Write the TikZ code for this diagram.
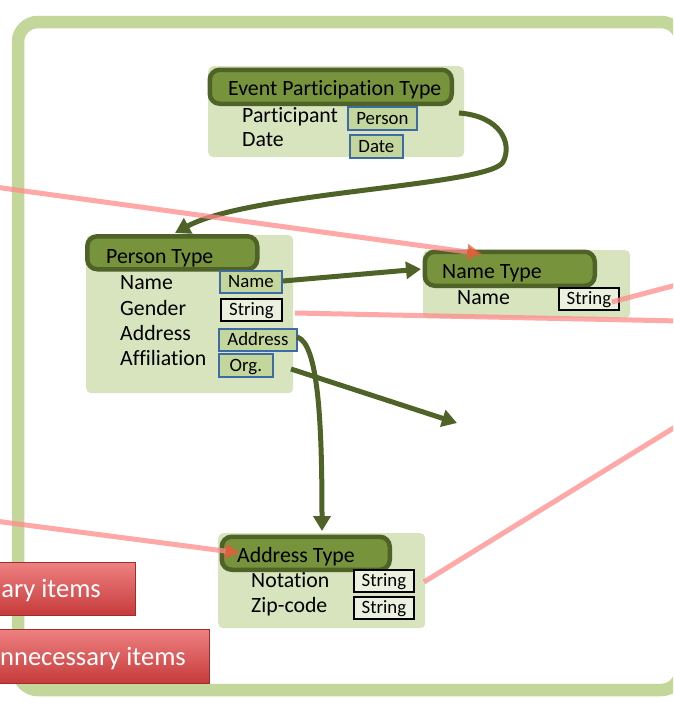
\documentclass[tikz,border=0pt]{standalone}
\usepackage{fontspec}
\setmainfont{Carlito}[Ligatures=NoCommon]
\usetikzlibrary{arrows.meta,calc}
\definecolor{frameg}{HTML}{C4D79B}
\definecolor{contg}{HTML}{D7E4BD}
\definecolor{headf}{HTML}{77933C}
\definecolor{headb}{HTML}{4F6228}
\definecolor{tboxf}{HTML}{C3D69B}
\definecolor{tboxb}{HTML}{3C6BA5}
\definecolor{sboxf}{HTML}{EBF1DE}
\definecolor{pinkl}{HTML}{FF8C8C}
\definecolor{pinkt}{HTML}{E0603C}
\definecolor{btntop}{HTML}{EE8080}
\definecolor{btnbot}{HTML}{C63A3A}
\definecolor{btnb}{HTML}{9C2E2E}
\begin{document}
\begin{tikzpicture}[x=1pt,y=-1pt,
  container/.style={fill=contg, rounded corners=5pt, inner sep=0pt, anchor=north west},
  header/.style={fill=headf, draw=headb, line width=4.5pt, rounded corners=10pt, inner sep=0pt, anchor=north west},
  htext/.style={font=\fontsize{21.8}{24}\selectfont, inner sep=0pt, anchor=base west},
  rowtext/.style={font=\fontsize{21.8}{24}\selectfont, inner sep=0pt, anchor=base west},
  tbox/.style={fill=tboxf, draw=tboxb, line width=1.8pt, inner sep=0pt, anchor=north west,
    font=\fontsize{18.8}{20}\selectfont, text height=16pt, text depth=4pt},
  sbox/.style={tbox, fill=sboxf, draw=black},
  gconn/.style={draw=headb, line width=5pt, -{Triangle[length=15pt,width=17pt]}},
  pconn/.style={draw=pinkl, line width=5pt, draw opacity=0.75},
  parrow/.style={pconn, -{Triangle[length=15pt,width=15pt,color=pinkt,fill=pinkt]}},
  button/.style={draw=btnb, line width=1.2pt, top color=btntop, bottom color=btnbot, inner sep=0pt, anchor=north west},
  btext/.style={font=\fontsize{26.5}{28}\selectfont, text=white, inner sep=0pt, anchor=base east}
]
\useasboundingbox (0,0) rectangle (673,707);
\clip (0,0) rectangle (673,707);
\fill[white] (0,0) rectangle (673,707);

% outer frame
\draw[frameg, line width=12.5pt, rounded corners=20pt] (18,22) rectangle (681,690);

% Event Participation Type
\node[container, minimum width=256pt, minimum height=91pt] (ept) at (208,66) {};
\node[header, minimum width=242pt, minimum height=34pt] (epth) at (207.5,67.5) {};
\node[htext] (eptt) at (228,95) {Event Participation Type};
\node[rowtext] (eptr1) at (242,122) {Participant};
\node[rowtext] (eptr2) at (242,146) {Date};
\node[tbox, minimum width=69pt, minimum height=23pt] (eptb1) at (347,106) {Person};
\node[tbox, minimum width=53pt, minimum height=23pt] (eptb2) at (349,134) {Date};

% Person Type
\node[container, minimum width=207pt, minimum height=158pt] (pt) at (86,235) {};
\node[header, minimum width=170pt, minimum height=33pt] (pth) at (85,234) {};
\node[htext] (ptt) at (106,263) {Person Type};
\node[rowtext] (ptr1) at (120,289) {Name};
\node[rowtext] (ptr2) at (120,315) {Gender};
\node[rowtext] (ptr3) at (120,340) {Address};
\node[rowtext] (ptr4) at (120,365) {Affiliation};
\node[tbox, minimum width=62pt, minimum height=22pt] (ptb1) at (219,270) {Name};
\node[sbox, minimum width=61pt, minimum height=22pt] (ptb2) at (220,298) {String};
\node[tbox, minimum width=78pt, minimum height=22pt] (ptb3) at (218,328) {Address};
\node[tbox, minimum width=54pt, minimum height=23pt] (ptb4) at (218,353) {Org.};

% Name Type
\node[container, minimum width=207pt, minimum height=68pt] (nt) at (423,250) {};
\node[header, minimum width=170pt, minimum height=34pt] (nth) at (422.5,249.5) {};
\node[htext] (ntt) at (442,278) {Name Type};
\node[rowtext] (ntr1) at (457,304) {Name};
\node[sbox, minimum width=60pt, minimum height=22pt] (ntb1) at (558,287) {String};

% Address Type
\node[container, minimum width=207pt, minimum height=95pt] (at) at (218,533) {};
\node[header, minimum width=168pt, minimum height=33pt] (ath) at (219.5,534.5) {};
\node[htext] (att) at (237,562) {Address Type};
\node[rowtext] (atr1) at (251,587) {Notation};
\node[rowtext] (atr2) at (251,612) {Zip-code};
\node[sbox, minimum width=60pt, minimum height=22pt] (atb1) at (353,569) {String};
\node[sbox, minimum width=60pt, minimum height=22pt] (atb2) at (353,596) {String};

% green connectors
\coordinate (c1s) at (459,113);
\coordinate (c1m) at (503,162);
\coordinate (c1e) at (175,233);
\draw[gconn] (c1s) .. controls (500,116) and (513,143) .. (c1m) .. controls (490,186) and (250,192) .. (c1e);
\coordinate (c2s) at (283,281);
\coordinate (c2e) at (421,269);
\draw[gconn] (c2s) -- (c2e);
\coordinate (c3s) at (297,337);
\coordinate (c3e) at (322,531);
\draw[gconn] (c3s) .. controls (318,343) and (322,420) .. (c3e);
\coordinate (c4s) at (291,369);
\coordinate (c4e) at (457,423);
\draw[gconn] (c4s) -- (c4e);

% pink connectors
\coordinate (p1s) at (-5,187);
\coordinate (p1e) at (482,254);
\draw[parrow] (p1s) -- (p1e);
\coordinate (p2s) at (-5,521);
\coordinate (p2e) at (240,553);
\draw[parrow] (p2s) -- (p2e);
\coordinate (p3s) at (612,302);
\coordinate (p3e) at (680,284);
\draw[pconn] (p3s) -- (p3e);
\coordinate (p4s) at (295,313);
\coordinate (p4e) at (680,321);
\draw[pconn] (p4s) -- (p4e);
\coordinate (p5s) at (424,582);
\coordinate (p5e) at (680,424);
\draw[pconn] (p5s) -- (p5e);

% buttons
\node[button, minimum width=150pt, minimum height=53pt] (b1) at (-15,562) {};
\node[btext] (b1t) at (101,597) {ary items};
\node[button, minimum width=224pt, minimum height=54pt] (b2) at (-15,629) {};
\node[btext] (b2t) at (186,665) {nnecessary items};
\end{tikzpicture}
\end{document}
